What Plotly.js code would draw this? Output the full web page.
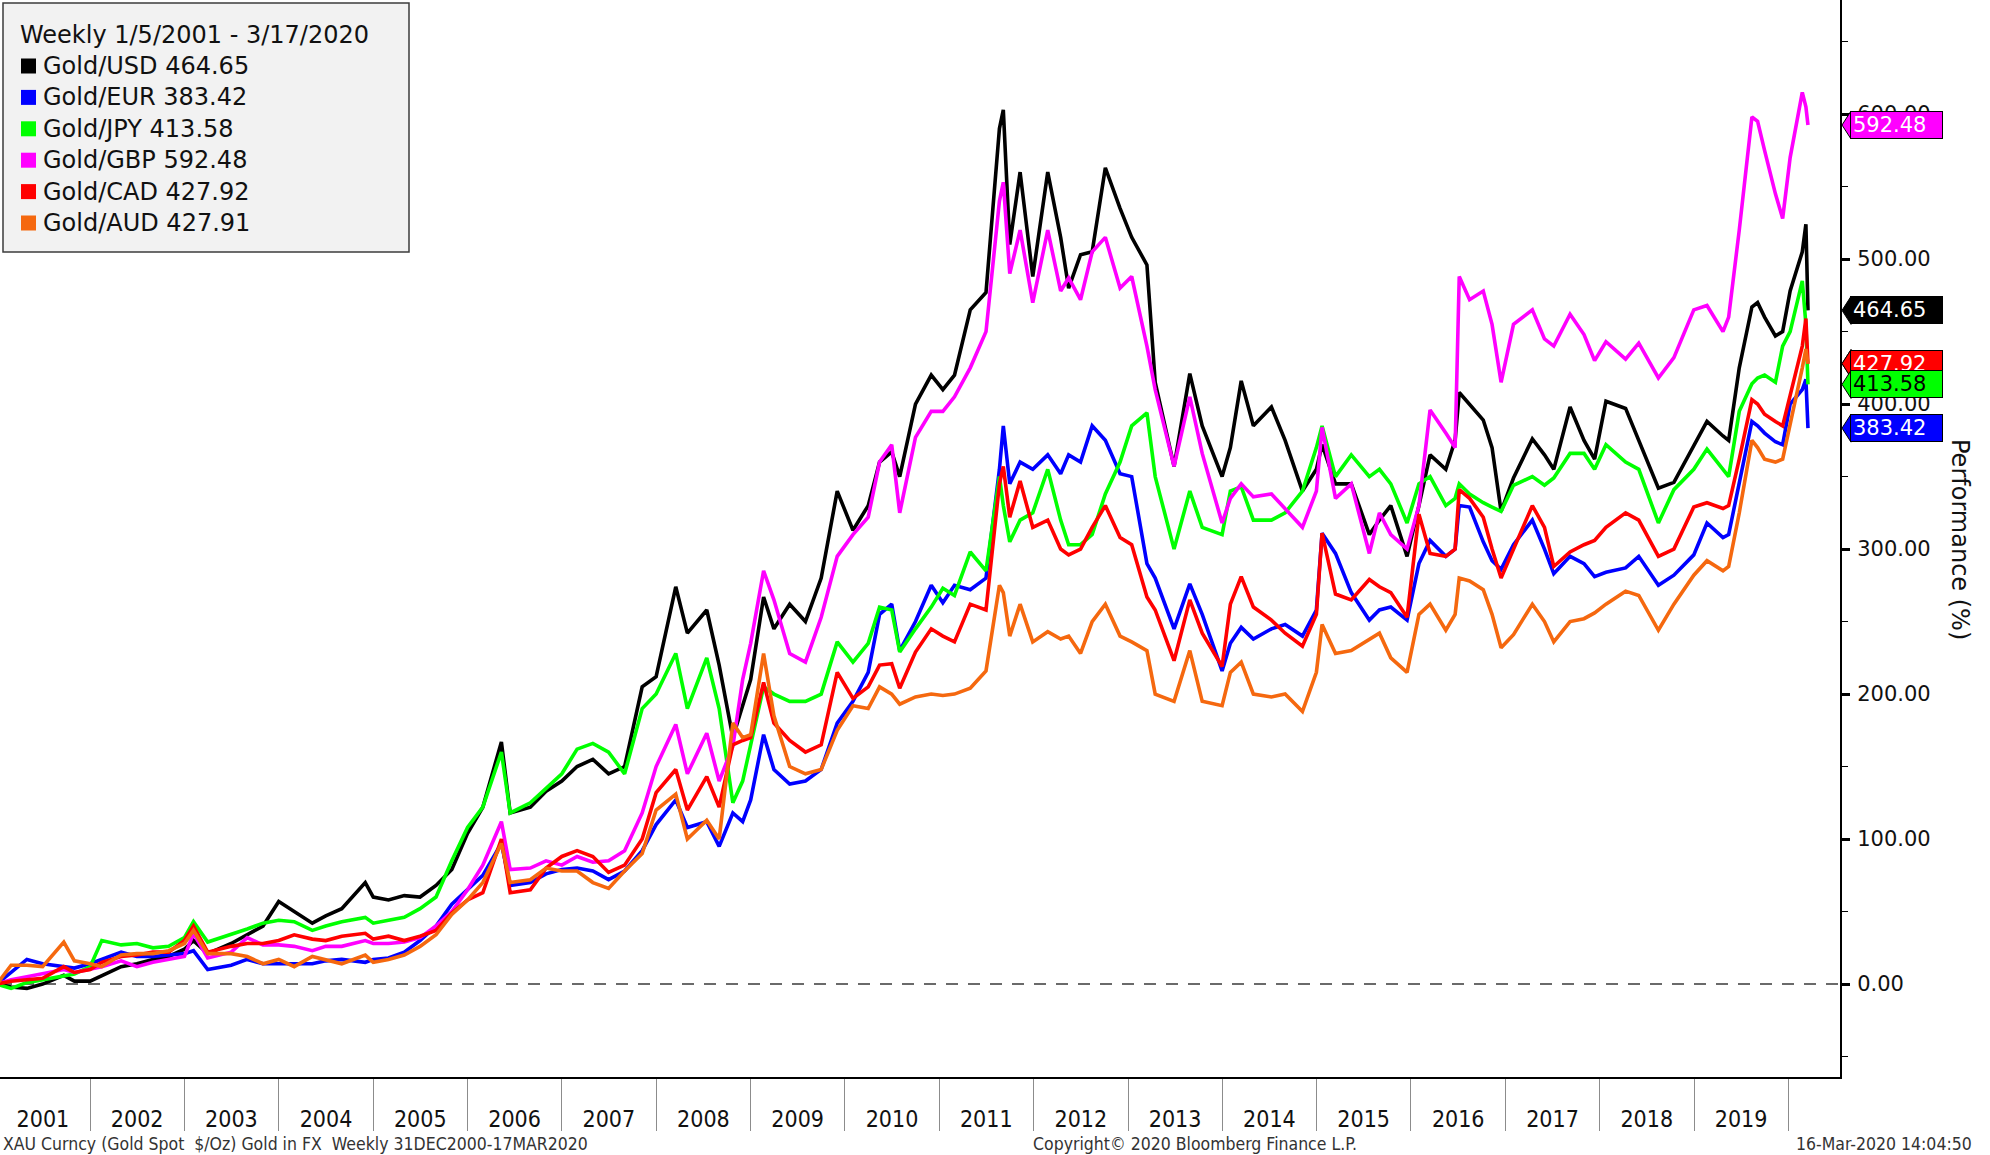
<!DOCTYPE html>
<html><head><meta charset="utf-8">
<script src="https://cdn.plot.ly/plotly-3.0.1.min.js"></script>
<style>html,body{margin:0;padding:0;background:#fff;}#chart{width:1990px;height:1155px;}</style>
</head><body><div id="chart"></div>
<script>
const dates = [
'2001-01-05','2001-03-01','2001-05-01','2001-07-01','2001-09-21','2001-11-01',
'2002-01-01','2002-02-15','2002-05-01','2002-07-01','2002-09-01','2002-11-01',
'2003-01-01','2003-02-05','2003-04-01','2003-07-01','2003-09-01','2003-11-01',
'2004-01-01','2004-03-01','2004-05-10','2004-07-01','2004-09-01','2004-12-01',
'2005-01-01','2005-03-01','2005-05-01','2005-07-01','2005-09-01','2005-11-01',
'2006-01-01','2006-03-01','2006-05-12','2006-06-15','2006-09-01','2006-11-01',
'2007-01-01','2007-03-01','2007-05-01','2007-07-01','2007-09-01','2007-11-08',
'2008-01-01','2008-03-17','2008-05-01','2008-07-15','2008-09-01','2008-10-24','2008-12-01',
'2009-01-01','2009-02-20','2009-04-01','2009-06-01','2009-08-01','2009-10-01','2009-12-02',
'2010-02-01','2010-04-01','2010-05-15','2010-07-01','2010-08-01','2010-10-01','2010-12-01',
'2011-01-15','2011-03-01','2011-05-01','2011-07-01','2011-08-22','2011-09-06','2011-10-01','2011-11-10','2011-12-29',
'2012-02-25','2012-04-15','2012-05-16','2012-07-01','2012-08-15','2012-10-05','2012-12-01',
'2013-01-15','2013-03-15','2013-04-16','2013-06-28','2013-08-28','2013-10-15','2013-12-31',
'2014-02-01','2014-03-15','2014-05-01','2014-07-10','2014-09-01','2014-11-07','2014-12-31',
'2015-01-22','2015-03-15','2015-05-15','2015-07-24','2015-09-01','2015-10-15','2015-12-17',
'2016-02-01','2016-03-15','2016-05-15','2016-06-20','2016-07-06','2016-08-15','2016-10-07','2016-11-10','2016-12-15',
'2017-02-01','2017-04-15','2017-06-01','2017-07-07','2017-09-08','2017-11-01','2017-12-12',
'2018-01-25','2018-04-11','2018-06-01','2018-08-16','2018-10-15','2018-12-31',
'2019-02-20','2019-04-23','2019-05-15','2019-06-25','2019-08-13','2019-09-04','2019-10-01','2019-11-12','2019-12-10',
'2020-01-08','2020-02-24','2020-03-09','2020-03-17'];

const goldUSD = [
0,-2,-3,0,6,2,
2,6,12,14,17,19,
24,30,21,28,34,40,
57,50,42,47,52,70,
60,58,61,60,68,79,
104,122,167,118,122,133,
140,150,155,145,150,205,
212,274,242,258,220,170,192,
210,267,245,262,250,280,340,
313,330,360,367,350,400,420,
410,420,465,477,590,603,510,560,488,
560,515,480,503,505,563,535,
515,496,415,357,421,385,350,
370,416,385,398,375,340,355,
372,345,345,310,320,330,295,
330,365,355,375,408,400,389,370,326,
349,376,365,355,398,375,362,
402,397,375,342,346,372,
388,378,375,425,467,470,460,447,450,
478,505,524,464.65];

const goldEUR = [
0,8,17,14,12,11,
14,17,22,19,19,20,
21,23,10,13,17,14,
14,14,14,16,17,15,
17,18,22,30,40,55,
65,75,97,68,70,76,
79,80,78,72,78,92,
110,127,108,112,95,118,112,
127,172,148,138,140,148,180,
195,215,255,262,230,250,275,
263,275,272,280,355,385,345,360,355,
365,352,365,360,385,375,352,
350,290,280,245,276,255,216,
235,246,238,245,248,240,258,
311,297,270,251,258,260,251,
290,306,295,300,330,329,305,292,286,
303,320,300,283,295,290,281,
284,287,295,275,282,296,
318,308,310,345,388,385,380,374,372,
400,410,417,383.42];

const goldJPY = [
0,-3,1,3,6,7,
12,30,27,28,25,26,
32,43,29,34,38,42,
44,43,37,40,43,46,
42,44,46,52,60,85,
108,122,160,118,125,135,
145,162,166,160,145,190,
200,228,190,225,190,125,140,
165,205,200,195,195,200,236,
222,235,260,258,229,245,260,
273,268,298,285,350,330,305,320,325,
355,320,303,303,310,338,360,
385,394,350,300,340,315,310,
340,343,320,320,325,340,370,
385,350,365,350,355,345,318,
345,350,330,335,345,338,332,329,326,
344,350,344,349,366,366,355,
372,360,355,318,341,355,
369,355,350,395,414,418,420,415,440,
450,485,455,413.58];

const goldGBP = [
0,3,5,7,10,8,
10,12,16,12,15,17,
19,35,18,22,32,27,
27,26,23,26,26,30,
28,28,29,32,40,50,
65,82,112,79,80,85,
82,88,84,85,92,118,
150,179,145,173,140,164,210,
235,285,265,228,222,253,295,
310,322,360,372,325,377,395,
395,405,425,450,540,553,490,520,470,
520,478,487,472,505,515,480,
488,440,410,357,405,366,318,
335,345,336,338,328,315,340,
384,335,345,297,325,310,300,
330,396,380,370,488,472,478,455,415,
455,465,445,440,462,448,430,
443,431,442,418,432,465,
468,450,460,520,598,595,575,545,528,
570,615,605,592.48];

const goldCAD = [
0,2,3,4,12,8,
10,15,19,20,22,22,
30,40,22,26,28,28,
30,34,31,30,33,35,
31,33,30,33,37,49,
58,63,100,63,65,80,
88,92,88,77,82,100,
132,148,120,143,122,165,168,
170,208,180,168,160,165,215,
197,205,220,221,204,229,245,
240,236,262,258,345,357,322,347,315,
320,300,296,300,315,330,308,
303,267,258,223,265,242,219,
262,281,260,251,242,233,255,
311,269,265,279,274,270,253,
324,297,295,300,341,335,322,300,280,
300,330,315,288,298,303,306,
315,325,320,295,300,329,
332,328,330,362,403,400,393,388,385,
406,440,459,427.92];

const goldAUD = [
0,13,13,12,29,16,
14,12,20,21,21,23,
28,37,21,21,19,14,
17,12,19,17,14,20,
15,17,20,26,34,48,
58,70,97,70,72,80,
78,78,70,66,78,90,
120,131,100,113,100,180,170,
172,228,185,150,145,148,175,
192,190,205,200,193,198,200,
199,200,204,216,275,270,240,262,236,
243,238,240,228,250,262,240,
236,230,200,195,230,195,192,
215,222,200,198,200,188,215,
248,228,230,238,242,225,215,
255,262,244,255,280,278,272,255,232,
241,262,250,236,250,252,256,
262,271,268,244,262,282,
292,285,288,325,375,370,362,360,362,
385,425,438,427.91];

const seriesNames = ['Gold/USD','Gold/EUR','Gold/JPY','Gold/GBP','Gold/CAD','Gold/AUD'];
const seriesColors = ['#000000','#0000ff','#00ff00','#ff00ff','#ff0000','#f5680f'];
const tagTextColors = ['#ffffff','#ffffff','#000000','#ffffff','#ffffff','#ffffff'];
const yearLabels = ['2001','2002','2003','2004','2005','2006','2007','2008','2009','2010',
                    '2011','2012','2013','2014','2015','2016','2017','2018','2019'];
const yTickVals = [0,100,200,300,400,500,600];
const yMinorVals = [-50,50,150,250,350,450,550,650];
const legendTitle = 'Weekly 1/5/2001 - 3/17/2020';
const yTitle = 'Performance (%)';
const footLeft = 'XAU Curncy (Gold Spot&nbsp;&nbsp;$/Oz) Gold in FX&nbsp;&nbsp;Weekly 31DEC2000-17MAR2020';
const footMid = 'Copyright\u00a9 2020 Bloomberg Finance L.P.';
const footRight = '16-Mar-2020 14:04:50';

// ---- geometry ----
const W = 1990, H = 1155;
const M = {l:0, r:150, t:0, b:78};
const PW = W - M.l - M.r, PH = H - M.t - M.b;
const px = v => v / PW;            // pixel -> paper x
const py = v => 1 - v / PH;        // pixel (from top) -> paper y
const FONT = 'DejaVu Sans, Verdana, sans-serif';
const CFONT = 'DejaVu Sans Condensed, Liberation Sans Narrow, DejaVu Sans, sans-serif';
const TXT = '#111111';

const series = [goldUSD, goldEUR, goldJPY, goldGBP, goldCAD, goldAUD];

const traces = series.map((vals, i) => ({
  type: 'scatter', mode: 'lines', x: dates, y: vals, name: seriesNames[i],
  line: {color: seriesColors[i], width: 3.6}, showlegend: false, hoverinfo: 'skip'
}));
// helper trace so the label axis exists
traces.push({type:'scatter', mode:'lines', x:[yearLabels[0] + '-07-02'], y:[null],
  xaxis:'x2', yaxis:'y', showlegend:false, hoverinfo:'skip'});

const shapes = [];
const annotations = [];

// zero dashed line
shapes.push({type:'line', xref:'paper', yref:'y', x0:0, x1:1, y0:0, y1:0,
  line:{color:'#3a3a3a', width:1.5, dash:'12px,10px'}, layer:'below'});

// legend box
shapes.push({type:'rect', xref:'paper', yref:'paper', x0:px(3), x1:px(409), y0:py(252), y1:py(3),
  fillcolor:'#f2f2f2', line:{color:'#3c3c3c', width:1.5}, layer:'above'});
annotations.push({xref:'paper', yref:'paper', x:px(18), y:py(35), xanchor:'left', yanchor:'middle',
  text:legendTitle, showarrow:false, font:{family:FONT, size:24, color:TXT}});
series.forEach((vals, i) => {
  const cy = 66 + i * 31.4;
  shapes.push({type:'rect', xref:'paper', yref:'paper', x0:px(21), x1:px(36), y0:py(cy+7.5), y1:py(cy-7.5),
    fillcolor:seriesColors[i], line:{width:0}, layer:'above'});
  annotations.push({xref:'paper', yref:'paper', x:px(41), y:py(cy), xanchor:'left', yanchor:'middle',
    text: seriesNames[i] + ' ' + vals[vals.length-1].toFixed(2), showarrow:false,
    font:{family:FONT, size:24, color:TXT}});
});

// right-hand value tags (drawn so that later ones cover earlier ones)
const tagOrder = [3, 0, 5, 4, 2, 1]; // GBP, USD, AUD, CAD, JPY, EUR
tagOrder.forEach(i => {
  const v = series[i][series[i].length-1];
  shapes.push({type:'path', xref:'paper', yref:'y', xsizemode:'pixel', ysizemode:'pixel',
    xanchor:1, yanchor:v, path:'M 2 0 L 11 14 L 11 -14 Z',
    fillcolor:seriesColors[i], line:{color:'#000', width:1}, layer:'above'});
  annotations.push({xref:'paper', yref:'y', x:1, xshift:10, y:v, xanchor:'left', yanchor:'middle',
    text:v.toFixed(2), showarrow:false, align:'left', width:87, height:22,
    bgcolor:seriesColors[i], bordercolor:'#000', borderwidth:1, borderpad:2,
    font:{family:FONT, size:21, color:tagTextColors[i]}});
});

// y axis title (reads top to bottom)
annotations.push({xref:'paper', yref:'paper', x:px(1960), y:py(539), xanchor:'center', yanchor:'middle',
  text:yTitle, textangle:90, showarrow:false, font:{family:FONT, size:24, color:TXT}});

// footer
annotations.push({xref:'paper', yref:'paper', x:px(1), y:py(1144), xanchor:'left', yanchor:'middle',
  text:footLeft, showarrow:false, font:{family:CFONT, size:17.5, color:'#333'}});
annotations.push({xref:'paper', yref:'paper', x:px(1031), y:py(1144), xanchor:'left', yanchor:'middle',
  text:footMid, showarrow:false, font:{family:CFONT, size:17.5, color:'#333'}});
annotations.push({xref:'paper', yref:'paper', x:px(1974), y:py(1144), xanchor:'right', yanchor:'middle',
  text:footRight, showarrow:false, font:{family:CFONT, size:17.5, color:'#333'}});

const yearBounds = yearLabels.slice(1).map(y => y + '-01-01').concat([(+yearLabels[yearLabels.length-1] + 1) + '-01-01']);
const yearMids = yearLabels.map(y => y + '-07-02');
const xRange = ['2001-01-17', '2020-07-19'];

const layout = {
  width: W, height: H, margin: M,
  paper_bgcolor:'#ffffff', plot_bgcolor:'#ffffff', showlegend:false,
  xaxis: {type:'date', range:xRange, tickmode:'array', tickvals:yearBounds, ticktext:yearBounds.map(()=>''),
    ticks:'outside', ticklen:52, tickwidth:1, tickcolor:'#8c8c8c',
    showline:true, linecolor:'#000', linewidth:2, showgrid:false, zeroline:false, fixedrange:true},
  xaxis2: {type:'date', range:xRange, overlaying:'x', anchor:'y', side:'bottom',
    tickmode:'array', tickvals:yearMids, ticktext:yearLabels,
    ticks:'outside', ticklen:21, tickcolor:'rgba(0,0,0,0)', showline:false, showgrid:false, zeroline:false,
    tickfont:{family:CFONT, size:23, color:TXT}, fixedrange:true},
  yaxis: {side:'right', range:[-64.1, 678.7], tickmode:'array', tickvals:yTickVals,
    ticktext: yTickVals.map(v => v.toFixed(2)),
    ticks:'outside', ticklen:8, tickwidth:3, tickcolor:'#000', ticklabelstandoff:3,
    showline:true, linecolor:'#000', linewidth:2, showgrid:false, zeroline:false,
    tickfont:{family:FONT, size:21, color:TXT},
    minor:{tickmode:'array', tickvals:yMinorVals, ticks:'outside', ticklen:6, tickwidth:1, tickcolor:'#000', showgrid:false},
    fixedrange:true},
  shapes: shapes, annotations: annotations
};

Plotly.newPlot('chart', traces, layout, {displayModeBar:false, staticPlot:true});
</script>
</body></html>
